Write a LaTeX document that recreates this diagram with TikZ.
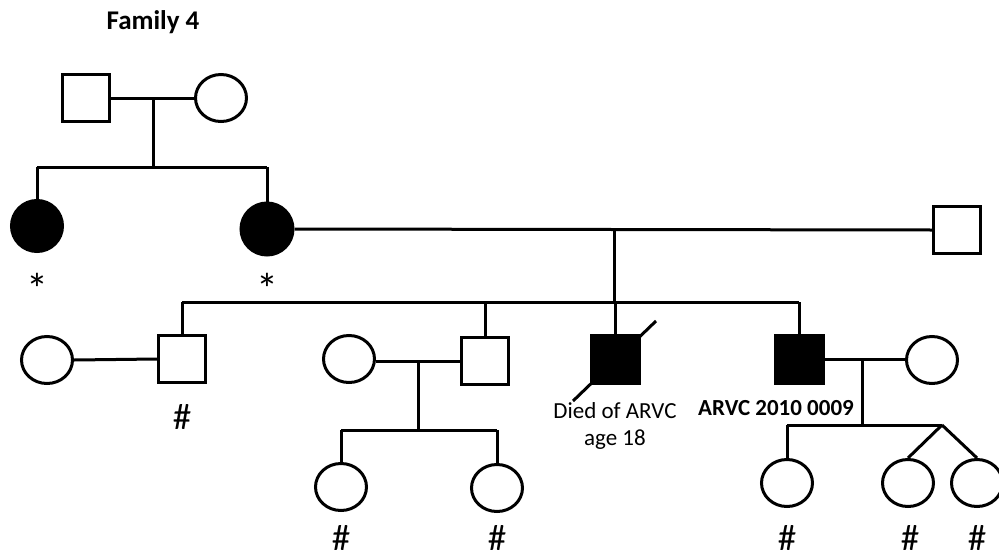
\documentclass[tikz,border=0pt]{standalone}
\usepackage{fontspec}
\setmainfont{Carlito}
\usetikzlibrary{shapes.geometric,calc}
\begin{document}
\begin{tikzpicture}[x=1pt,y=-1pt,
  line width=3pt,
  male/.style={draw,rectangle,minimum size=47pt,inner sep=0pt,line width=3pt},
  female/.style={draw,ellipse,minimum width=51pt,minimum height=47pt,inner sep=0pt,line width=3pt},
  affected/.style={fill=black},
  sym/.style={font=\fontsize{37}{39}\selectfont,inner sep=0pt,anchor=north},
  star/.style={font=\fontsize{44}{46}\selectfont,inner sep=0pt,anchor=north},
  note/.style={font=\fontsize{23}{27}\selectfont,align=center,inner sep=0pt},
  rel/.style={line width=3pt}]
\useasboundingbox (0,0) rectangle (999,557);

% title
\node[font=\bfseries\fontsize{27}{30}\selectfont] (title) at (153,22) {Family 4};

% generation I
\node[male] (g1m) at (86,98) {};
\node[female] (g1f) at (221,98) {};
\coordinate (g1mid) at (153,98);
\coordinate (g1sib) at (153,167);
\coordinate (g1l) at (37,167);
\coordinate (g1r) at (267,167);
\draw[rel] (g1m.east) -- (g1f.west);
\draw[rel] (g1mid) -- (g1sib);
\draw[rel] (g1l) -- (g1r);

% generation II
\node[female,affected,minimum width=51pt,minimum height=51pt] (s1) at (37,226) {};
\node[female,affected,minimum width=52pt,minimum height=52pt] (s2) at (267,229) {};
\node[male] (h2) at (957,230) {};
\node[star] (ast1) at (37,272) {*};
\node[star] (ast2) at (267,272) {*};
\draw[rel] (g1l) -- (s1.north);
\draw[rel] (g1r) -- (s2.north);
\draw[rel] (s2.east) -- (h2.west);
\coordinate (g2mid) at (614,229);
\coordinate (g2sib) at (614,302);
\coordinate (g2l) at (182,302);
\coordinate (g2c) at (485,302);
\coordinate (g2d) at (615,302);
\coordinate (g2r) at (799,302);
\draw[rel] (g2mid) -- (g2sib);
\draw[rel] (g2l) -- (g2r);

% generation III
\node[female] (w1) at (47,360) {};
\node[male] (c1) at (182,359) {};
\node[sym] (h1) at (182,403) {\#};
\draw[rel] (g2l) -- (c1.north);
\draw[rel] (w1.east) -- (c1.west);

\node[female] (w2) at (349,359) {};
\node[male] (c2) at (485,361) {};
\draw[rel] (g2c) -- (c2.north);
\draw[rel] (w2.east |- c2.west) -- (c2.west);
\coordinate (m2) at (418,362);
\coordinate (m2sib) at (418,430);
\coordinate (m2l) at (341,430);
\coordinate (m2r) at (497,430);
\draw[rel] (m2) -- (m2sib);
\draw[rel] (m2l) -- (m2r);
\node[female] (k1) at (341,487) {};
\node[female] (k2) at (497,488) {};
\draw[rel] (m2l) -- (k1.north);
\draw[rel] (m2r) -- (k2.north);
\node[sym] (h2a) at (341,524) {\#};
\node[sym] (h2b) at (497,524) {\#};

% deceased brother
\node[male,affected,minimum size=48pt] (dec) at (615,359) {};
\draw[rel] (g2d) -- (dec.north);
\draw[rel] ($(dec.center)+(-42,42)$) -- ($(dec.center)+(41,-38)$);
\node[note] (decl) at (615,426) {Died of ARVC\\age 18};

% proband
\node[male,affected,minimum size=48pt] (prob) at (799,359) {};
\node[female] (w3) at (932,360) {};
\draw[rel] (g2r) -- (prob.north);
\draw[rel] (prob.east) -- (w3.west |- prob.east);
\node[note,font=\bfseries\fontsize{23}{27}\selectfont] (probl) at (776,408) {ARVC 2010 0009};
\coordinate (m3) at (862,359);
\coordinate (m3sib) at (862,425);
\coordinate (m3l) at (787,425);
\coordinate (twin) at (942,425);
\draw[rel] (m3) -- (m3sib);
\draw[rel] (m3l) -- (twin);
\node[female] (k3) at (787,483) {};
\node[female] (k4) at (908,483) {};
\node[female] (k5) at (977,483) {};
\draw[rel] (m3l) -- (k3.north);
\draw[rel] (twin) -- (k4.north);
\draw[rel] (twin) -- (k5.north);
\node[sym] (h3a) at (787,524) {\#};
\node[sym] (h3b) at (910,524) {\#};
\node[sym] (h3c) at (977,524) {\#};
\end{tikzpicture}
\end{document}
